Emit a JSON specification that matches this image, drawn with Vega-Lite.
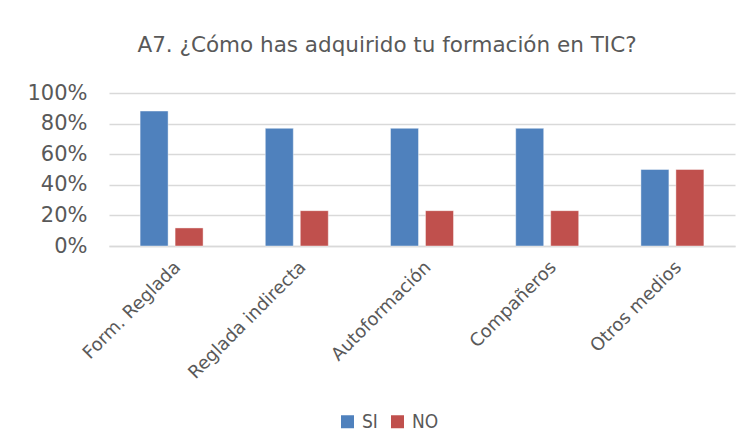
{
  "$schema": "https://vega.github.io/schema/vega-lite/v6.json",
  "width": 626,
  "height": 153,
  "autosize": {"type": "none"},
  "padding": {"left": 109, "top": 93, "right": 17, "bottom": 202},
  "background": "white",
  "config": {
    "font": "DejaVu Sans",
    "view": {"stroke": null}
  },
  "title": {
    "text": "A7. ¿Cómo has adquirido tu formación en TIC?",
    "anchor": "middle",
    "dx": -35,
    "offset": 26,
    "fontSize": 21.5,
    "fontWeight": "normal",
    "color": "#595959",
    "font": "DejaVu Sans"
  },
  "data": {
    "values": [
      {"cat": "Form. Reglada", "serie": "SI", "valor": 0.882},
      {"cat": "Form. Reglada", "serie": "NO", "valor": 0.118},
      {"cat": "Reglada indirecta", "serie": "SI", "valor": 0.769},
      {"cat": "Reglada indirecta", "serie": "NO", "valor": 0.231},
      {"cat": "Autoformación", "serie": "SI", "valor": 0.769},
      {"cat": "Autoformación", "serie": "NO", "valor": 0.231},
      {"cat": "Compañeros", "serie": "SI", "valor": 0.769},
      {"cat": "Compañeros", "serie": "NO", "valor": 0.231},
      {"cat": "Otros medios", "serie": "SI", "valor": 0.5},
      {"cat": "Otros medios", "serie": "NO", "valor": 0.5}
    ]
  },
  "mark": {"type": "bar", "stroke": "white", "strokeWidth": 0.7, "strokeOpacity": 0.6},
  "encoding": {
    "x": {
      "field": "cat",
      "type": "nominal",
      "sort": null,
      "scale": {"paddingInner": 0.497, "paddingOuter": 0.2485},
      "axis": {
        "title": null,
        "labelAngle": -45,
        "labelAlign": "right",
        "labelBaseline": "top",
        "labelFontSize": 18,
        "labelColor": "#595959",
        "labelPadding": 12,
        "ticks": false,
        "domainColor": "#D9D9D9",
        "domainWidth": 1.5,
        "grid": false
      }
    },
    "xOffset": {
      "field": "serie",
      "type": "nominal",
      "sort": ["SI", "NO"],
      "scale": {"paddingInner": 0.2, "paddingOuter": 0}
    },
    "y": {
      "field": "valor",
      "type": "quantitative",
      "scale": {"domain": [0, 1], "nice": false},
      "axis": {
        "title": null,
        "format": ".0%",
        "values": [0, 0.2, 0.4, 0.6, 0.8, 1],
        "labelFontSize": 21,
        "labelColor": "#595959",
        "labelPadding": 22,
        "ticks": false,
        "domain": false,
        "gridColor": "#D9D9D9",
        "gridWidth": 1.5
      }
    },
    "color": {
      "field": "serie",
      "type": "nominal",
      "sort": ["SI", "NO"],
      "scale": {"domain": ["SI", "NO"], "range": ["#4F81BD", "#C0504D"]},
      "legend": {
        "title": null,
        "orient": "none",
        "direction": "horizontal",
        "legendX": 229,
        "legendY": 319,
        "symbolType": "square",
        "symbolSize": 169,
        "symbolStrokeWidth": 0,
        "labelFontSize": 19,
        "labelColor": "#595959",
        "labelFont": "DejaVu Sans Condensed",
        "labelOffset": 5,
        "columnPadding": 10
      }
    }
  }
}
